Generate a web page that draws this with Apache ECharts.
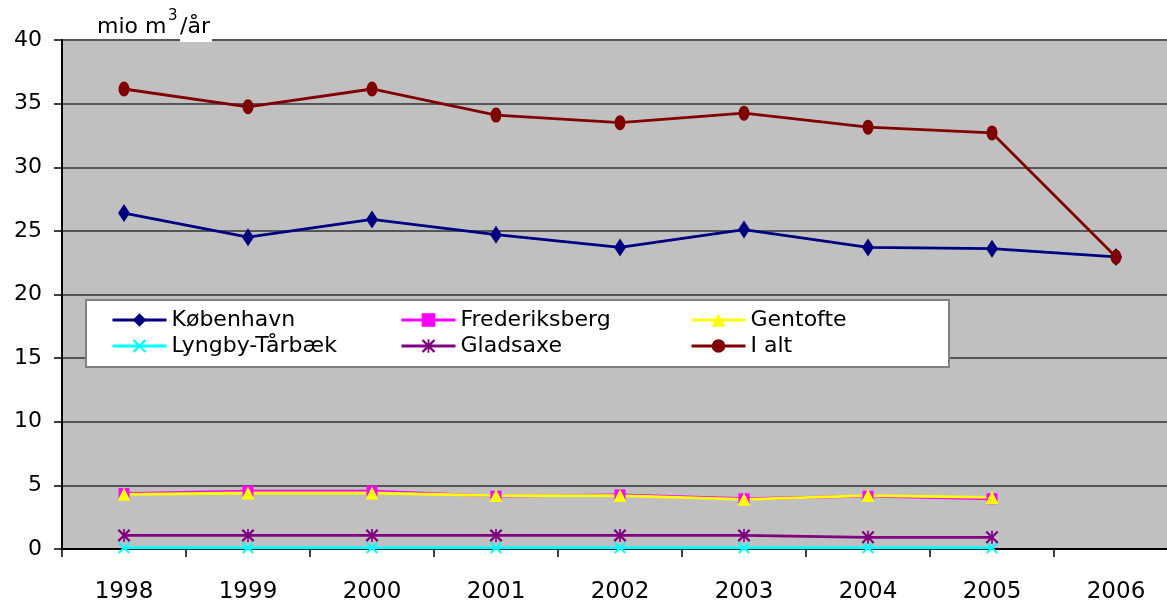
<!DOCTYPE html>
<html>
<head>
<meta charset="utf-8">
<title>mio m3/år</title>
<script src="https://cdn.jsdelivr.net/npm/echarts@6/dist/echarts.min.js"></script>
<style>
  html, body { margin: 0; padding: 0; background: #fff; }
  #chart { width: 1167px; height: 601px; }
</style>
</head>
<body>
<div id="chart"></div>
<script>
var years = ['1998', '1999', '2000', '2001', '2002', '2003', '2004', '2005', '2006'];
var yTicks = [0, 5, 10, 15, 20, 25, 30, 35, 40];

var kobenhavn = [26.4, 24.5, 25.9, 24.7, 23.7, 25.1, 23.7, 23.6, 22.95];
var frederiksberg = [4.35, 4.55, 4.55, 4.15, 4.25, 3.95, 4.15, 3.95, null];
var gentofte = [4.3, 4.4, 4.4, 4.2, 4.2, 3.9, 4.2, 4.05, null];
var lyngby = [0.1, 0.1, 0.1, 0.1, 0.1, 0.1, 0.1, 0.1, null];
var gladsaxe = [1.07, 1.07, 1.07, 1.07, 1.07, 1.07, 0.92, 0.92, null];
var iAlt = [36.15, 34.75, 36.15, 34.1, 33.5, 34.25, 33.15, 32.7, 22.95];

// legend layout: two rows of three names
var legendRows = [
    ['København', 'Frederiksberg', 'Gentofte'],
    ['Lyngby-Tårbæk', 'Gladsaxe', 'I alt']
];

var FONT = 'DejaVu Sans';

// X and asterisk markers as filled paths
var crossPath = 'path://M0,1.2 L1.2,0 L5,3.8 L8.8,0 L10,1.2 L6.2,5 L10,8.8 L8.8,10 L5,6.2 L1.2,10 L0,8.8 L3.8,5 Z';
var starPath = crossPath + ' M4.35,0 L5.65,0 L5.65,10 L4.35,10 Z';

function lineSeries (name, data, color, symbol, size) {
    return {
        name: name,
        type: 'line',
        data: data,
        symbol: symbol,
        symbolSize: size,
        showSymbol: true,
        connectNulls: false,
        animation: false,
        lineStyle: { color: color, width: 2.8 },
        itemStyle: { color: color, borderWidth: 0 }
    };
}

// one legend per cell so the columns line up like the original
function buildLegends () {
    var colLeft = [111, 400, 690];
    var rowTop = [309, 335];
    var out = [];
    legendRows.forEach(function (row, r) {
        row.forEach(function (name, c) {
            out.push({
                data: [name],
                left: colLeft[c],
                top: rowTop[r],
                padding: 0,
                itemWidth: 54,
                itemHeight: 17,
                lineStyle: { width: 3 },
                textStyle: { fontFamily: FONT, fontSize: 22, color: '#000' },
                z: 10
            });
        });
    });
    return out;
}

var chart = echarts.init(document.getElementById('chart'));

chart.setOption({
    animation: false,
    backgroundColor: '#fff',
    grid: {
        left: 62,
        top: 40,
        right: -11,
        height: 509,
        outerBoundsMode: 'none',
        containLabel: false,
        show: true,
        backgroundColor: '#C0C0C0',
        borderColor: '#808080',
        borderWidth: 1
    },
    xAxis: {
        type: 'category',
        data: years,
        boundaryGap: true,
        axisLine: { lineStyle: { color: '#000', width: 2 } },
        axisTick: { show: true, interval: 0, length: 8, lineStyle: { color: '#000', width: 1.5 } },
        axisLabel: { fontFamily: FONT, fontSize: 23, color: '#000', margin: 32 },
        splitLine: { show: false }
    },
    yAxis: {
        type: 'value',
        min: yTicks[0],
        max: yTicks[yTicks.length - 1],
        interval: 5,
        axisLine: { show: true, lineStyle: { color: '#000', width: 2 } },
        axisTick: { show: true, length: 8, lineStyle: { color: '#000', width: 1.5 } },
        axisLabel: { fontFamily: FONT, fontSize: 22, color: '#000', margin: 20 },
        splitLine: { show: true, lineStyle: { color: '#555', width: 2 } }
    },
    legend: buildLegends(),
    graphic: [
        {
            type: 'rect',
            left: 85,
            top: 299,
            shape: { width: 863, height: 67 },
            style: { fill: '#fff', stroke: '#808080', lineWidth: 2 },
            z: 5
        },
        {
            type: 'rect',
            left: 180,
            top: 34,
            shape: { width: 32, height: 8 },
            style: { fill: '#fff' },
            z: 5
        },
        {
            type: 'text',
            left: 97,
            top: 16,
            style: { text: 'mio m', font: '22px ' + FONT, fill: '#000' },
            z: 6
        },
        {
            type: 'text',
            left: 168,
            top: 9,
            style: { text: '3', font: '15px ' + FONT, fill: '#000' },
            z: 6
        },
        {
            type: 'text',
            left: 180,
            top: 16,
            style: { text: '/år', font: '22px ' + FONT, fill: '#000' },
            z: 6
        }
    ],
    series: [
        lineSeries('København', kobenhavn, '#000080', 'diamond', [12, 18]),
        lineSeries('Frederiksberg', frederiksberg, '#FF00FF', 'rect', 11),
        lineSeries('Gentofte', gentofte, '#FFFF00', 'triangle', 13),
        lineSeries('Lyngby-Tårbæk', lyngby, '#00FFFF', crossPath, 12),
        lineSeries('Gladsaxe', gladsaxe, '#800080', starPath, 13),
        lineSeries('I alt', iAlt, '#800000', 'circle', [11, 15])
    ]
});
</script>
</body>
</html>
